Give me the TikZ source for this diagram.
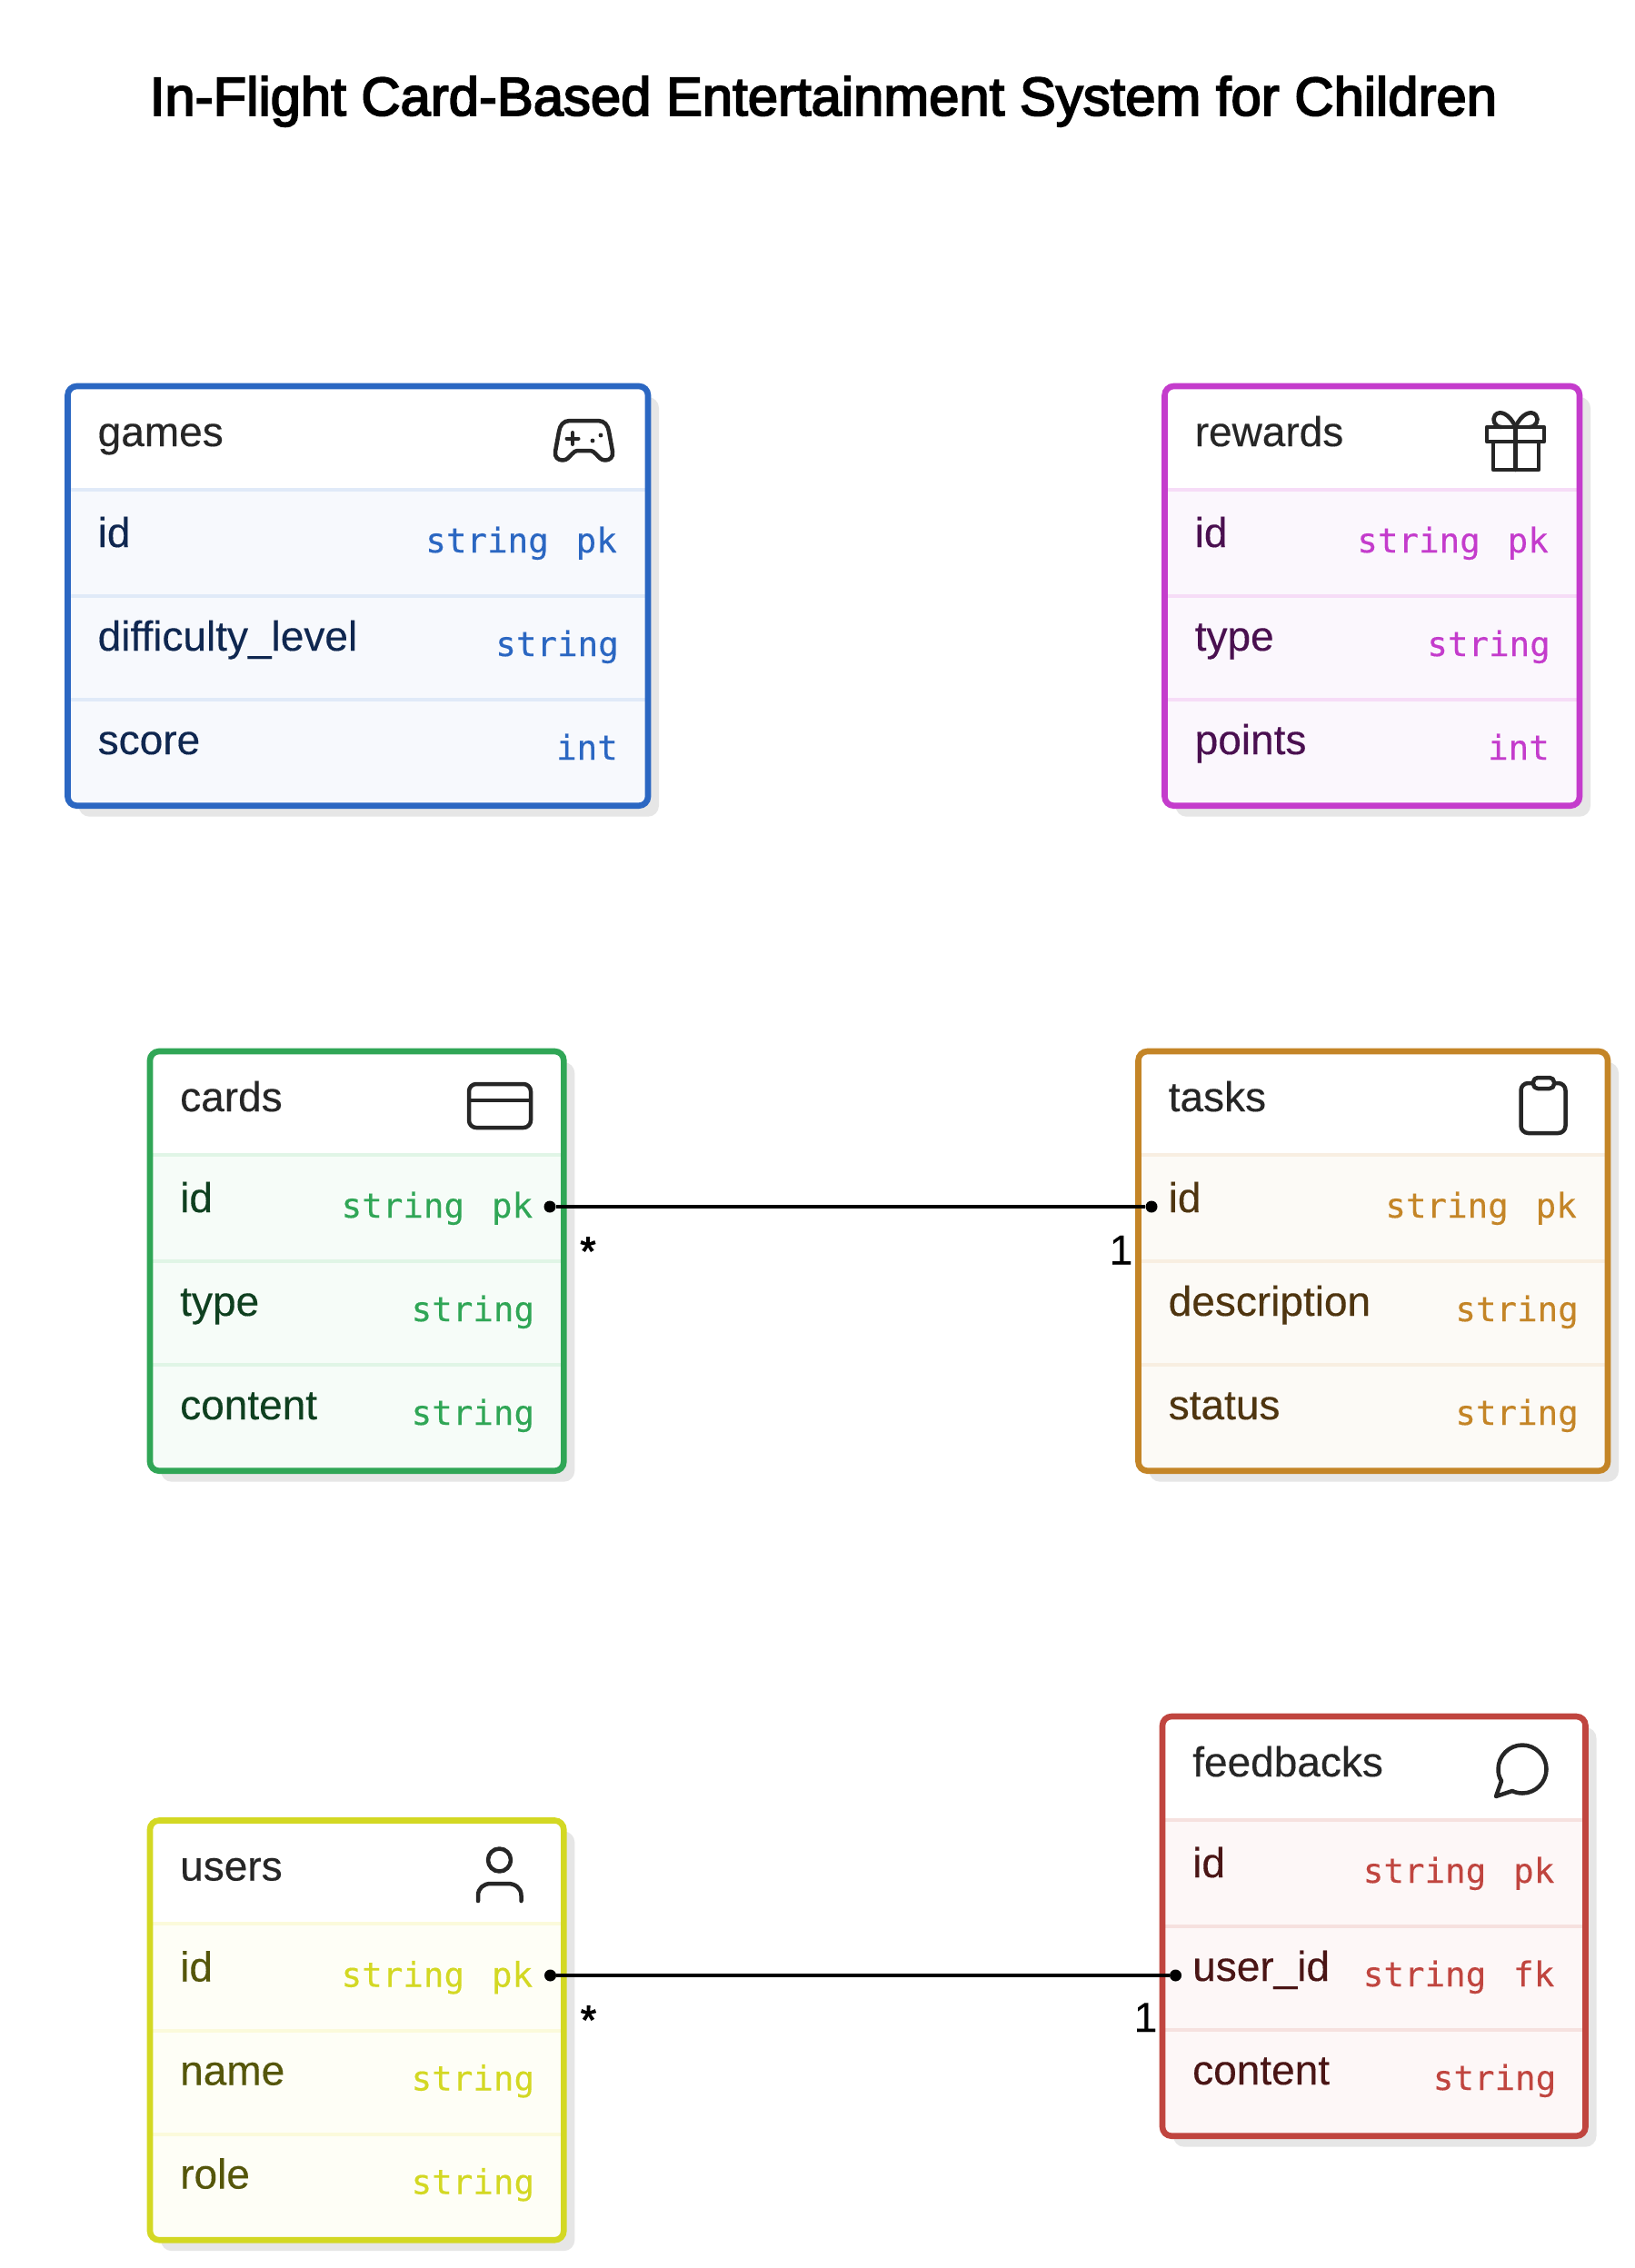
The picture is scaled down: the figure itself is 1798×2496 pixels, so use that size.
\documentclass[tikz,border=0pt]{standalone}
\usepackage{fontspec}
\setmainfont[FakeBold=0.25]{Liberation Sans}
\newfontfamily\monof[FakeBold=0.3]{DejaVu Sans Mono}
\newfontfamily\titlef[FakeBold=3]{Liberation Sans}
\newfontfamily\starf[FakeBold=2.5]{Liberation Sans}
\definecolor{gamesS}{HTML}{2B67C2}\definecolor{gamesF}{HTML}{F7F9FD}\definecolor{gamesD}{HTML}{E0EAF8}\definecolor{gamesN}{HTML}{0F2750}
\definecolor{rewardsS}{HTML}{C43CCC}\definecolor{rewardsF}{HTML}{FBF7FD}\definecolor{rewardsD}{HTML}{F6DCF7}\definecolor{rewardsN}{HTML}{4A1050}
\definecolor{cardsS}{HTML}{30A656}\definecolor{cardsF}{HTML}{F6FCF8}\definecolor{cardsD}{HTML}{E0F5E6}\definecolor{cardsN}{HTML}{0F4020}
\definecolor{tasksS}{HTML}{C48527}\definecolor{tasksF}{HTML}{FCFAF6}\definecolor{tasksD}{HTML}{F8EEE1}\definecolor{tasksN}{HTML}{4F3510}
\definecolor{usersS}{HTML}{D3D823}\definecolor{usersF}{HTML}{FEFEF6}\definecolor{usersD}{HTML}{FBFADB}\definecolor{usersN}{HTML}{55560A}
\definecolor{feedbacksS}{HTML}{C0453F}\definecolor{feedbacksF}{HTML}{FDF7F7}\definecolor{feedbacksD}{HTML}{F6E1DF}\definecolor{feedbacksN}{HTML}{4A1515}
\definecolor{inkc}{HTML}{262626}
\definecolor{shadowc}{HTML}{E6E6E6}
\tikzset{
  x=1pt,y=-1pt,
  namefont/.style={font=\fontsize{46}{50}\selectfont},
  fieldtext/.style={anchor=base west,inner sep=0pt,namefont},
  typetext/.style={anchor=base east,inner sep=0pt,font=\monof\fontsize{37.5}{40}\selectfont},
  cardlabel/.style={inner sep=0pt,namefont,text=black},
  icon/.style={draw=inkc,line width=4.5pt,line cap=round,line join=round},
  enddot/.style={circle,fill=black,inner sep=0pt,minimum size=13pt},
  relline/.style={draw=black,line width=3.6pt},
}
% name, left, right, top
\newcommand{\ertable}[4]{%
  \pgfmathsetmacro{\tL}{#2}\pgfmathsetmacro{\tR}{#3}\pgfmathsetmacro{\tT}{#4}%
  \pgfmathsetmacro{\tB}{#4+461.7}%
  \pgfmathsetmacro{\tA}{#4+113.7}\pgfmathsetmacro{\tC}{#4+231}\pgfmathsetmacro{\tD}{#4+345}%
  \fill[shadowc,rounded corners=12pt] (\tL+12,\tT+12) rectangle (\tR+12,\tB+12);
  \fill[white,rounded corners=10pt] (\tL,\tT) rectangle (\tR,\tB);
  \begin{scope}
    \clip[rounded corners=10pt] (\tL,\tT) rectangle (\tR,\tB);
    \fill[#1F] (\tL,\tA) rectangle (\tR,\tB);
    \draw[#1D,line width=4pt] (\tL,\tA) -- (\tR,\tA) (\tL,\tC) -- (\tR,\tC) (\tL,\tD) -- (\tR,\tD);
  \end{scope}
  \pgfmathsetmacro{\tW}{#3-(#2)}\pgfmathsetmacro{\tH}{461.7}%
  \node[draw=#1S,line width=6.6pt,rounded corners=10pt,inner sep=0pt,outer sep=0pt,minimum width=\tW pt,minimum height=\tH pt,anchor=north west] (#1) at (\tL,\tT) {};
  \node[fieldtext,text=inkc] (#1-title) at (\tL+33,\tT+66) {#1};
}
% table, row offset name baseline, row offset type baseline, field, type, key
\newcommand{\errow}[6]{%
  \node[fieldtext,text=#1N] (#1-#4) at (\tL+33,\tT+#2) {#5};
  \if\relax\detokenize{#6}\relax
    \node[typetext,text=#1S] at (\tR-32,\tT+#3) {string};
  \else
    \node[typetext,text=#1S] at (\tR-109,\tT+#3) {string};
    \node[typetext,text=#1S] at (\tR-34,\tT+#3) {#6};
  \fi
}
\newcommand{\errowi}[5]{% int row
  \node[fieldtext,text=#1N] (#1-#4) at (\tL+33,\tT+#2) {#5};
  \node[typetext,text=#1S] at (\tR-33,\tT+#3) {int};
}
\begin{document}
\begin{tikzpicture}
\useasboundingbox (0,0) rectangle (1798,2496);
\fill[white] (0,0) rectangle (1798,2496);
\node[inner sep=0pt,anchor=base,font=\titlef\fontsize{59.8}{64}\selectfont] (title) at (906,127) {In-Flight Card-Based Entertainment System for Children};

% games
\ertable{games}{74.5}{713}{425}
\errow{games}{177}{183}{id}{id}{pk}
\errow{games}{291}{297}{difficulty}{difficulty\_level}{}
\errowi{games}{405}{411}{score}{score}
\draw[icon] (627,463) -- (658,463) .. controls (665,463) and (669,468) .. (670,475)
  -- (674,497) .. controls (675,503) and (671,506.5) .. (666,506.5)
  .. controls (661,506.5) and (659,503) .. (656,500)
  .. controls (654,497.5) and (652,496) .. (648,496) -- (637,496)
  .. controls (633,496) and (631,497.5) .. (629,500)
  .. controls (626,503) and (624,506.5) .. (619,506.5)
  .. controls (614,506.5) and (610,503) .. (611,497)
  -- (615,475) .. controls (616,468) and (620,463) .. (627,463) -- cycle;
\draw[icon,line width=4pt] (630,476) -- (630,489) (623.5,482.5) -- (636.5,482.5);
\fill[inkc] (652,485) circle (2.4pt) (661,479) circle (2.4pt);

% rewards
\ertable{rewards}{1281.5}{1738}{425}
\errow{rewards}{177}{183}{id}{id}{pk}
\errow{rewards}{291}{297}{type}{type}{}
\errowi{rewards}{405}{411}{points}{points}
\draw[icon] (1636,470) rectangle (1699,486);
\draw[icon] (1643,486) rectangle (1693,517);
\draw[icon] (1667.5,470) -- (1667.5,517);
\draw[icon] (1667.5,470) .. controls (1661,455) and (1650,451) .. (1645,457)
  .. controls (1641,462) and (1645,470) .. (1652,470);
\draw[icon] (1667.5,470) .. controls (1674,455) and (1685,451) .. (1690,457)
  .. controls (1694,462) and (1690,470) .. (1683,470);

% cards
\ertable{cards}{165}{620.3}{1157}
\errow{cards}{177}{183}{id}{id}{pk}
\errow{cards}{291}{297}{type}{type}{}
\errow{cards}{405}{411}{content}{content}{}
\draw[icon,rounded corners=8pt] (516,1193) rectangle (584,1241);
\draw[icon,line cap=butt] (516,1211) -- (584,1211);

% tasks
\ertable{tasks}{1252.5}{1769}{1157}
\errow{tasks}{177}{183}{id}{id}{pk}
\errow{tasks}{291}{297}{description}{description}{}
\errow{tasks}{405}{411}{status}{status}{}
\draw[icon,rounded corners=8pt] (1673.5,1192) rectangle (1722.5,1247);
\draw[icon,fill=white,rounded corners=5pt] (1687,1186) rectangle (1710,1198);

% users
\ertable{users}{165}{620.3}{2003.5}
\errow{users}{177}{183}{id}{id}{pk}
\errow{users}{291}{297}{name}{name}{}
\errow{users}{405}{411}{role}{role}{}
\draw[icon] (549.5,2047) circle (12.5pt);
\draw[icon] (526,2092) -- (526,2086) .. controls (526,2078) and (532,2073) .. (540,2073) -- (559,2073) .. controls (567,2073) and (573.5,2078) .. (573.5,2086) -- (573.5,2092);

% feedbacks
\ertable{feedbacks}{1279}{1744.5}{1889}
\errow{feedbacks}{177}{183}{id}{id}{pk}
\errow{feedbacks}{291}{297}{user}{user\_id}{fk}
\errow{feedbacks}{405}{411}{content}{content}{}
\draw[icon] (1652,1960) .. controls (1649,1955) and (1648.5,1951) .. (1648.5,1947)
  .. controls (1648.5,1932.4) and (1660.4,1920.5) .. (1675,1920.5)
  .. controls (1689.6,1920.5) and (1701.5,1932.4) .. (1701.5,1947)
  .. controls (1701.5,1961.6) and (1689.6,1973.5) .. (1675,1973.5)
  .. controls (1671,1973.5) and (1667,1972.5) .. (1664,1971)
  -- (1646,1977) -- cycle;

% connectors
\node[enddot] (dotcards) at (605,1328) {};
\node[enddot] (dottasks) at (1267,1328) {};
\draw[relline] (dotcards) -- (dottasks);
\node[enddot] (dotusers) at (605.5,2174) {};
\node[enddot] (dotfeed) at (1293.5,2174) {};
\draw[relline] (dotusers) -- (dotfeed);
\node[cardlabel,anchor=base,font=\starf\fontsize{44}{50}\selectfont] (star1) at (647,1392) {*};
\node[cardlabel,anchor=base] (one1) at (1233.5,1391.5) {1};
\node[cardlabel,anchor=base,font=\starf\fontsize{44}{50}\selectfont] (star2) at (647.5,2238) {*};
\node[cardlabel,anchor=base] (one2) at (1260.5,2236) {1};
\end{tikzpicture}
\end{document}
